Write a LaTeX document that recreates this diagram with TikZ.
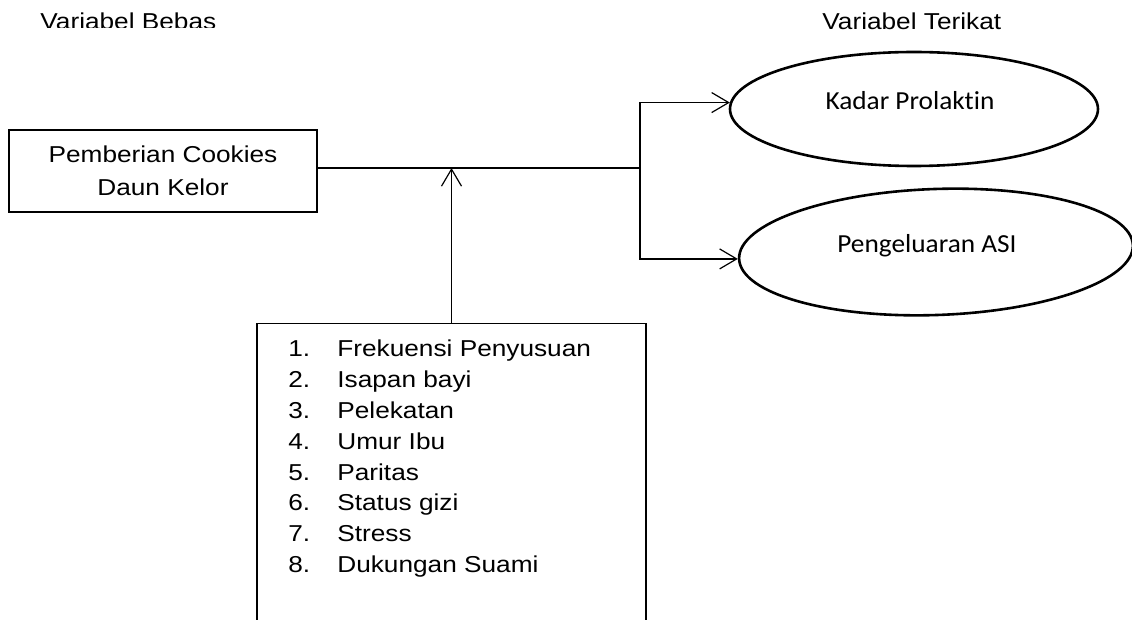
\documentclass[tikz,border=0pt]{standalone}
\usepackage{fontspec}
\setmainfont[FakeStretch=1.14]{Liberation Sans}
\newfontfamily\calibri[FakeStretch=1.05, Ligatures=NoCommon]{Carlito}
\usetikzlibrary{arrows.meta,shapes.geometric,positioning}
\tikzset{
  varbox/.style={draw, line width=0.75pt, inner sep=0pt, align=center,
    font=\fontsize{11.5}{16.7}\selectfont},
  varell/.style={draw, line width=1.3pt, ellipse, inner sep=0pt},
  elltxt/.style={anchor=base, inner sep=0pt, font=\calibri\fontsize{13}{15}\selectfont},
  headtxt/.style={anchor=base west, inner sep=0pt, font=\fontsize{11.5}{14}\selectfont},
  itemtxt/.style={anchor=base west, inner sep=0pt, font=\fontsize{11.5}{14}\selectfont},
  conn/.style={line width=0.6pt},
  arr/.style={conn, -{Straight Barb[length=8.5pt, width=10pt]}},
}

\begin{document}
\begin{tikzpicture}[x=0.5pt, y=-0.5pt]
  \clip (0,0) rectangle (1132,620);
  % headings
  \begin{scope}
    \clip (0,0) rectangle (400,28);
    \node[headtxt] (hbebas) at (40,30) {Variabel Bebas};
  \end{scope}
  \node[headtxt] (hterikat) at (822,30) {Variabel Terikat};
  % variables
  \node[varbox, minimum width=154pt, minimum height=41pt] (cookies) at (163,171)
    {Pemberian Cookies\\Daun Kelor};
  \node[varell, minimum width=184pt, minimum height=57pt] (kadar) at (914,109) {};
  \node[elltxt] (kadartxt) at (910,110) {Kadar Prolaktin};
  \node[varell, minimum width=197pt, minimum height=63pt, rotate=2] (asi) at (936,252) {};
  \node[elltxt] (asitxt) at (927,253) {Pengeluaran ASI};
  % other factors
  \node[varbox, anchor=north, minimum width=194.5pt, minimum height=170pt] (faktor) at (451.5,323) {};
  \foreach \n/\lbl in {1/Frekuensi Penyusuan, 2/Isapan bayi, 3/Pelekatan, 4/Umur Ibu,
      5/Paritas, 6/Status gizi, 7/Stress, 8/Dukungan Suami}
    \node[itemtxt] (f\n) at (288,{357+30.8*(\n-1)}) {\makebox[24.5pt][l]{\n.}\lbl};
  % connectors
  \coordinate (split) at (640,168);
  \draw[conn] (cookies.east |- split) -- (split);
  \draw[arr] (split) |- (kadar.178);
  \draw[arr] (split) |- (asi.west);
  \draw[arr] (faktor.north) -- (faktor.north |- split);
\end{tikzpicture}
\end{document}
